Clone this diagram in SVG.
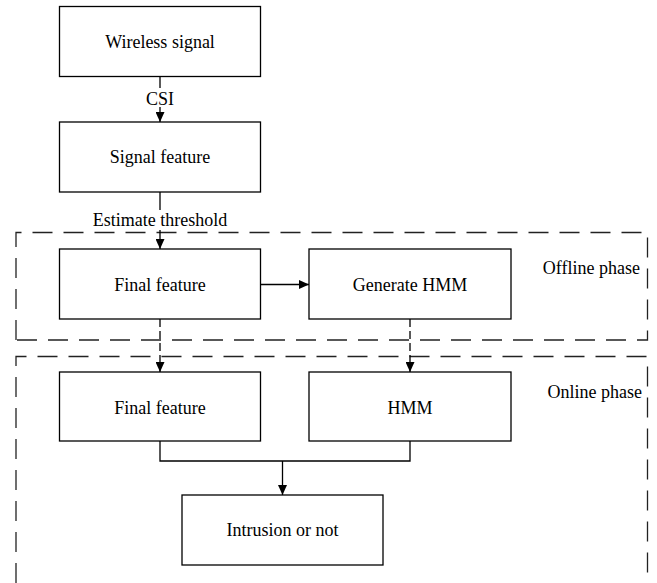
<svg xmlns="http://www.w3.org/2000/svg" width="657" height="583" viewBox="0 0 657 583">
<style>
.box{fill:#fff;stroke:#000;stroke-width:1.3}
.t{font-family:"Liberation Serif","Times New Roman",serif;font-size:18px;fill:#000;text-anchor:middle}
.tr{font-family:"Liberation Serif","Times New Roman",serif;font-size:18px;fill:#000;text-anchor:end}
.ln{fill:none;stroke:#000;stroke-width:1.3}
.dl{fill:none;stroke:#000;stroke-width:1.3;stroke-dasharray:8 4}
.phase{fill:none;stroke:#222;stroke-width:1.3;stroke-dasharray:20 11}
</style>
<defs>
<marker id="ah" viewBox="0 0 10 10" refX="10" refY="5" markerWidth="10" markerHeight="9" markerUnits="userSpaceOnUse" orient="auto" preserveAspectRatio="none">
<path d="M0,0 L10,5 L0,10 z" fill="#000"/>
</marker>
</defs>
<rect width="657" height="583" fill="#fff"/>
<g id="offline-phase">
<path class="phase" d="M16,340 L16,232.5 L647.5,232.5 L647.5,340 Z"/>
<text class="tr" x="640" y="274">Offline phase</text>
</g>
<g id="online-phase">
<path class="phase" d="M16,583 L16,356.5 L647.5,356.5 L647.5,583"/>
<text class="tr" x="642" y="398">Online phase</text>
</g>
<g id="connectors">
<line class="ln" x1="160" y1="76" x2="160" y2="88"/>
<text class="t" x="160" y="105">CSI</text>
<line class="ln" x1="160" y1="107" x2="160" y2="122" marker-end="url(#ah)"/>
<line class="ln" x1="160" y1="192" x2="160" y2="210"/>
<text class="t" x="160" y="226">Estimate threshold</text>
<line class="ln" x1="160" y1="230" x2="160" y2="249" marker-end="url(#ah)"/>
<line class="ln" x1="261" y1="284.5" x2="309" y2="284.5" marker-end="url(#ah)"/>
<line class="dl" x1="160" y1="319" x2="160" y2="372" marker-end="url(#ah)"/>
<line class="dl" x1="410" y1="319" x2="410" y2="372" marker-end="url(#ah)"/>
<path class="ln" d="M160,441 L160,461 L410,461 L410,441"/>
<line class="ln" x1="282.5" y1="461" x2="282.5" y2="495" marker-end="url(#ah)"/>
</g>
<g id="wireless-signal">
<rect class="box" x="59.5" y="6.5" width="201" height="70"/>
<text class="t" x="160" y="48">Wireless signal</text>
</g>
<g id="signal-feature">
<rect class="box" x="59.5" y="122" width="201" height="70"/>
<text class="t" x="160" y="163">Signal feature</text>
</g>
<g id="final-feature-offline">
<rect class="box" x="59.5" y="249" width="201" height="70"/>
<text class="t" x="160" y="291">Final feature</text>
</g>
<g id="generate-hmm">
<rect class="box" x="309" y="249" width="202" height="70"/>
<text class="t" x="410" y="291">Generate HMM</text>
</g>
<g id="final-feature-online">
<rect class="box" x="59.5" y="372" width="201" height="69"/>
<text class="t" x="160" y="414">Final feature</text>
</g>
<g id="hmm">
<rect class="box" x="309" y="372" width="202" height="69"/>
<text class="t" x="410" y="414">HMM</text>
</g>
<g id="intrusion-or-not">
<rect class="box" x="182" y="495" width="201" height="70"/>
<text class="t" x="282.5" y="536">Intrusion or not</text>
</g>
</svg>
